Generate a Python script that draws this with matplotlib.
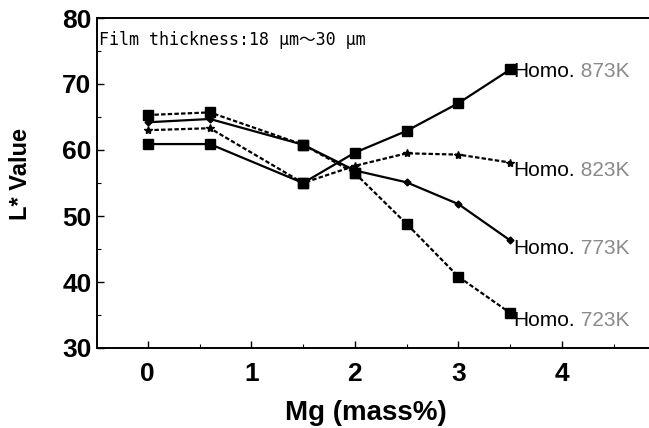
import matplotlib
matplotlib.use("Agg")
import matplotlib.pyplot as plt
from matplotlib.ticker import MultipleLocator

mg = [0, 0.6, 1.5, 2.0, 2.5, 3.0, 3.5]
homo_873 = [60.9, 60.9, 55.0, 59.6, 62.9, 67.1, 72.2]
homo_823 = [63.0, 63.3, 55.0, 57.6, 59.5, 59.3, 58.1]
homo_773 = [64.2, 64.7, 60.8, 56.9, 55.1, 51.8, 46.3]
homo_723 = [65.3, 65.7, 60.8, 56.5, 48.8, 40.8, 35.3]
series_labels = ["873K", "823K", "773K", "723K"]
x_ticks = [0, 1, 2, 3, 4]
y_ticks = [30, 40, 50, 60, 70, 80]

fig = plt.figure(figsize=(6.49, 4.28), dpi=100)
ax = fig.add_axes([97/649, 1-348/428, 1-97/649, 330/428])

dash = (0, (2.0, 1.0))
ax.plot(mg, homo_873, color="black", lw=1.6, ls="-", marker="s", ms=6.5, zorder=3)
ax.plot(mg, homo_823, color="black", lw=1.6, ls=dash, marker="*", ms=6, zorder=3)
ax.plot(mg, homo_773, color="black", lw=1.6, ls="-", marker="D", ms=3.5, zorder=3)
ax.plot(mg, homo_723, color="black", lw=1.6, ls=dash, marker="s", ms=6.5, zorder=3)
# shared markers drawn as squares
ax.plot([mg[2]], [homo_873[2]], ls="none", marker="s", ms=7.5, color="black", zorder=4)
ax.plot([mg[2]], [homo_773[2]], ls="none", marker="s", ms=7, color="black", zorder=4)
ax.plot([mg[3]], [homo_723[3]], ls="none", marker="s", ms=7.5, color="black", zorder=4)

offsets = [0, -4, -4, -4]
for lab, ys, dy in zip(series_labels, [homo_873, homo_823, homo_773, homo_723], offsets):
    t = ax.annotate("Homo.", xy=(mg[-1], ys[-1]), xytext=(2, dy - 5.5),
                    textcoords="offset points", fontsize=15, color="black",
                    family="Liberation Sans", va="baseline", ha="left")
    ax.annotate(" " + lab, xy=(1, 0), xycoords=t, fontsize=15, color="#8a8a8a",
                family="Liberation Sans", va="bottom", ha="left")

ax.text(0.003, 0.918, "Film thickness:18 μm〜30 μm", transform=ax.transAxes,
        fontsize=12, family=["DejaVu Sans Mono", "Noto Sans CJK JP"],
        va="baseline", ha="left")

ax.set_xlim(-0.49, 4.84)
ax.set_ylim(30, 80)
ax.set_xticks(x_ticks)
ax.set_yticks(y_ticks)
ax.xaxis.set_minor_locator(MultipleLocator(0.5))
ax.yaxis.set_minor_locator(MultipleLocator(5))
ax.tick_params(which="major", direction="in", length=5, width=1, top=False, right=False)
ax.tick_params(which="minor", direction="in", length=3, width=0.8, top=False, right=False)
ax.tick_params(axis="x", which="major", pad=10)
ax.tick_params(axis="y", which="major", pad=4)
for lbl in ax.get_xticklabels() + ax.get_yticklabels():
    lbl.set_fontsize(19)
    lbl.set_fontweight("bold")
    lbl.set_family("Liberation Sans")

ax.spines["right"].set_visible(False)
for s in ["left", "bottom", "top"]:
    ax.spines[s].set_linewidth(1.4)

ax.set_xlabel("Mg (mass%)", fontsize=20, fontweight="bold", family="Liberation Sans")
ax.set_ylabel("L* Value", fontsize=17, fontweight="bold", family="Liberation Sans")
ax.xaxis.set_label_coords(0.487, -0.158)
ax.yaxis.set_label_coords(-0.118, 0.527)

fig.savefig("out.png", dpi=100)
